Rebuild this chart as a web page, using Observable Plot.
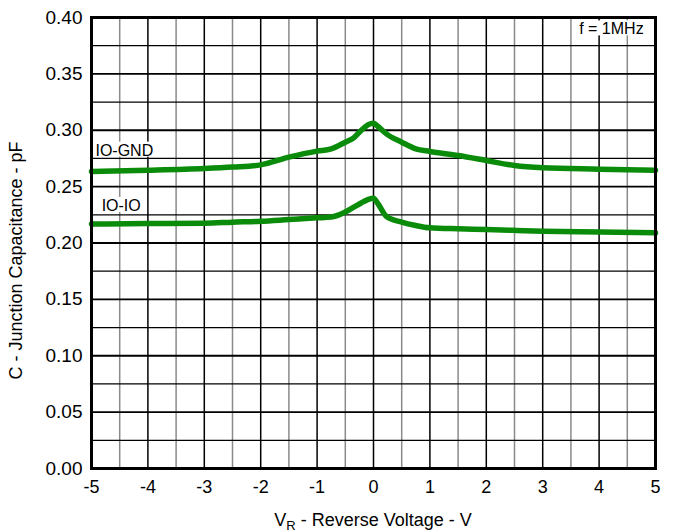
<!DOCTYPE html>
<html><head><meta charset="utf-8">
<script src="https://cdn.jsdelivr.net/npm/d3@7"></script>
<script src="https://cdn.jsdelivr.net/npm/@observablehq/plot@0.6"></script>
<style>
body{margin:0;background:#fff}
#chart svg{font-family:Arial,"Liberation Sans",sans-serif;background:#fff}
</style>
</head><body><div id="chart"></div>
<script>
// Data
const voltage = [-5,-4,-3,-2.5,-2,-1.5,-1,-0.75,-0.5,-0.35,-0.22,-0.1,0,0.08,0.23,0.5,0.75,1,1.5,2,2.5,3,4,5];
const ioGnd   = [0.2635,0.2645,0.266,0.2673,0.2693,0.2761,0.2815,0.2835,0.2894,0.2933,0.2998,0.3048,0.3063,0.3033,0.2968,0.2894,0.2835,0.2812,0.2776,0.2732,0.2687,0.2667,0.2655,0.2645];
const ioIo    = [0.2168,0.2172,0.2176,0.2185,0.2193,0.2208,0.2223,0.2230,0.2275,0.2318,0.2355,0.2385,0.2398,0.2348,0.2235,0.2185,0.2155,0.2135,0.2126,0.2120,0.2112,0.2105,0.2098,0.2090];
const seriesNames = ["IO-GND","IO-IO"];
const xTicks = [-5,-4,-3,-2,-1,0,1,2,3,4,5];
const xHalfGrid = [-4.5,-3.5,-2.5,-1.5,-0.5,0.5,1.5,2.5,3.5,4.5];
const yTicks = [0,0.05,0.10,0.15,0.20,0.25,0.30,0.35,0.40];
const yHalfGrid = [0.025,0.075,0.125,0.175,0.225,0.275,0.325,0.375];
const seriesLabels = [
  {text:"IO-GND", x:-4.93, y:0.2775},
  {text:"IO-IO", x:-4.82, y:0.2285}
];
const noteLabels = [{text:"f = 1MHz", x:4.79, y:0.385}];

const rows = [];
voltage.forEach((v,i)=>{
  rows.push({v, c: ioGnd[i], s: seriesNames[0]});
  rows.push({v, c: ioIo[i], s: seriesNames[1]});
});

const plot = Plot.plot({
  width: 673, height: 532,
  marginLeft: 91, marginRight: 18, marginTop: 17, marginBottom: 64,
  style: {fontSize: "18px", fontFamily: "Arial, 'Liberation Sans', sans-serif", color: "#000"},
  x: {domain: [-5, 5]},
  y: {domain: [0, 0.4]},
  marks: [
    Plot.ruleX(xHalfGrid, {stroke: "#8a8a8a", strokeWidth: 1.5}),
    Plot.ruleX(xTicks, {stroke: "#000", strokeWidth: 1.5}),
    Plot.ruleY(yHalfGrid, {stroke: "#000", strokeWidth: 1.2}),
    Plot.ruleY(yTicks, {stroke: "#000", strokeWidth: 1.8}),
    Plot.axisX({ticks: xTicks, tickSize: 0, tickPadding: 12, tickFormat: d => String(d), label: null, fontSize: 18}),
    Plot.axisY({ticks: yTicks, tickSize: 0, tickPadding: 9, tickFormat: d => d.toFixed(2), label: null, fontSize: 19}),
    Plot.line(rows, {x: "v", y: "c", z: "s", stroke: "#0a8c0a", strokeWidth: 5.5, curve: "monotone-x"}),
    Plot.frame({stroke: "#000", strokeWidth: 3}),
    Plot.text(seriesLabels, {x: "x", y: "y", text: "text", textAnchor: "start", lineAnchor: "bottom", fontSize: 16, fill: "#000", className: "annot"}),
    Plot.text(noteLabels, {x: "x", y: "y", text: "text", textAnchor: "end", lineAnchor: "bottom", fontSize: 16, fill: "#000", className: "annot"})
  ]
});

document.getElementById("chart").appendChild(plot);
const svg = d3.select(plot);

// white boxes behind the annotation labels
svg.selectAll(".annot text").each(function(){
  const b = this.getBBox();
  const g = this.parentNode;
  const r = document.createElementNS("http://www.w3.org/2000/svg","rect");
  r.setAttribute("x", b.x - 2); r.setAttribute("y", b.y);
  r.setAttribute("width", b.width + 4); r.setAttribute("height", b.height - 2);
  r.setAttribute("fill", "#fff");
  const tr = this.getAttribute("transform");
  if (tr) r.setAttribute("transform", tr);
  g.insertBefore(r, this);
});

const xs = plot.scale("x"), ys = plot.scale("y");
const cx = (xs.apply(-5) + xs.apply(5)) / 2;
const xl = svg.append("text").attr("x", cx).attr("y", 526).attr("text-anchor", "middle")
  .attr("font-size", 18).attr("fill", "#000");
xl.append("tspan").text("V");
xl.append("tspan").attr("font-size", 13).attr("dy", 4).text("R");
xl.append("tspan").attr("dy", -4).text(" - Reverse Voltage - V");

svg.append("text").attr("transform", `translate(22,${(ys.apply(0)+ys.apply(0.4))/2 + 18}) rotate(-90)`)
  .attr("text-anchor", "middle").attr("font-size", 18).attr("fill", "#000")
  .text("C - Junction Capacitance - pF");
</script>
</body></html>
